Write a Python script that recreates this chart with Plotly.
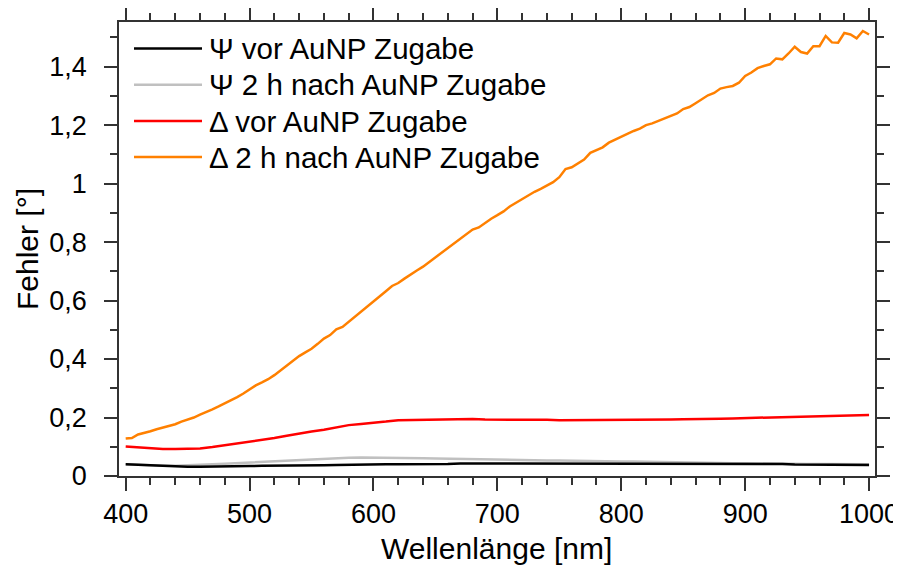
import plotly.graph_objects as go

# ---------------- data ----------------
wl_fine = list(range(400, 1001, 5))
delta_nach = [0.128, 0.130, 0.142, 0.147, 0.153, 0.160, 0.166, 0.170, 0.177, 0.186,
              0.193, 0.200, 0.210, 0.218, 0.228, 0.238, 0.248, 0.258, 0.270, 0.282,
              0.296, 0.310, 0.320, 0.331, 0.345, 0.362, 0.378, 0.396, 0.410, 0.423,
              0.435, 0.452, 0.470, 0.482, 0.502, 0.510, 0.527, 0.545, 0.562, 0.580,
              0.598, 0.615, 0.632, 0.650, 0.660, 0.675, 0.690, 0.703, 0.716, 0.732,
              0.745, 0.762, 0.778, 0.795, 0.810, 0.826, 0.843, 0.850, 0.866, 0.880,
              0.892, 0.905, 0.922, 0.935, 0.946, 0.958, 0.972, 0.982, 0.993, 1.005,
              1.022, 1.050, 1.056, 1.068, 1.082, 1.105, 1.115, 1.124, 1.140, 1.150,
              1.162, 1.172, 1.180, 1.188, 1.200, 1.206, 1.215, 1.222, 1.232, 1.240,
              1.255, 1.262, 1.275, 1.290, 1.302, 1.310, 1.325, 1.330, 1.334, 1.345,
              1.368, 1.380, 1.395, 1.402, 1.408, 1.428, 1.425, 1.445, 1.468, 1.450,
              1.445, 1.470, 1.470, 1.505, 1.483, 1.482, 1.515, 1.510, 1.497, 1.522,
              1.510]

wl = list(range(400, 1001, 10))
psi_vor = [0.040, 0.038, 0.036, 0.034, 0.033, 0.032, 0.032, 0.032, 0.032, 0.033,
           0.034, 0.035, 0.035, 0.036, 0.036, 0.037, 0.037, 0.038, 0.039, 0.039,
           0.040, 0.040, 0.040, 0.040, 0.040, 0.041, 0.041, 0.043, 0.043, 0.043,
           0.043, 0.043, 0.043, 0.043, 0.043, 0.043, 0.043, 0.043, 0.043, 0.043,
           0.043, 0.043, 0.043, 0.043, 0.043, 0.043, 0.043, 0.041, 0.041, 0.041,
           0.041, 0.041, 0.041, 0.041, 0.039, 0.039, 0.039, 0.039, 0.038, 0.038,
           0.038]
psi_nach = [0.040, 0.038, 0.036, 0.035, 0.035, 0.036, 0.038, 0.040, 0.042, 0.044,
            0.047, 0.050, 0.052, 0.054, 0.056, 0.058, 0.060, 0.061, 0.062, 0.063,
            0.063, 0.063, 0.063, 0.062, 0.061, 0.060, 0.059, 0.058, 0.057, 0.056,
            0.055, 0.055, 0.054, 0.054, 0.053, 0.053, 0.052, 0.052, 0.051, 0.051,
            0.050, 0.050, 0.049, 0.049, 0.048, 0.047, 0.046, 0.045, 0.045, 0.044,
            0.044, 0.043, 0.043, 0.042, 0.042, 0.041, 0.041, 0.041, 0.040, 0.040,
            0.040]
delta_vor = [0.101, 0.098, 0.094, 0.092, 0.092, 0.092, 0.094, 0.099, 0.105, 0.110,
             0.116, 0.123, 0.130, 0.138, 0.146, 0.152, 0.158, 0.166, 0.174, 0.178,
             0.181, 0.186, 0.191, 0.192, 0.192, 0.193, 0.195, 0.196, 0.195, 0.193,
             0.193, 0.193, 0.194, 0.193, 0.192, 0.191, 0.191, 0.191, 0.191, 0.192,
             0.192, 0.192, 0.192, 0.193, 0.193, 0.194, 0.194, 0.195, 0.196, 0.197,
             0.198, 0.199, 0.200, 0.201, 0.202, 0.203, 0.204, 0.205, 0.206, 0.208,
             0.209]

series_names = ["Ψ vor AuNP Zugabe", "Ψ 2 h nach AuNP Zugabe",
                "Δ vor AuNP Zugabe", "Δ 2 h nach AuNP Zugabe"]
series_colors = ["#000000", "#c0c0c0", "#ff0000", "#ff8000"]
x_title = "Wellenlänge [nm]"
y_title = "Fehler [°]"

FONT = "Arial, Liberation Sans, sans-serif"

fig = go.Figure()
# drawing order: grey below black
order = [(1, wl, psi_nach), (0, wl, psi_vor), (2, wl, delta_vor), (3, wl_fine, delta_nach)]
for idx, xs, ys in order:
    fig.add_trace(go.Scatter(x=xs, y=ys, mode="lines", name=series_names[idx],
                             line=dict(color=series_colors[idx], width=2.5),
                             showlegend=False))

# manual legend (longer line samples like the reference)
W, H = 756.0, 454.0
L, T = 119.0, 22.0          # plot-area origin in page pixels
row_y = [48.5, 84.8, 121.0, 157.0]
for i, name in enumerate(series_names):
    yp = (476 - row_y[i]) / H
    fig.add_shape(type="line", xref="paper", yref="paper",
                  x0=(134 - L) / W, x1=(202 - L) / W, y0=yp, y1=yp,
                  line=dict(color=series_colors[i], width=2.5))
    fig.add_annotation(xref="paper", yref="paper", x=(207 - L) / W, y=yp,
                       xanchor="left", yanchor="middle", text=name, showarrow=False,
                       font=dict(family=FONT, size=29.5, color="black"))

# x axis line extends beyond plot area
for x0, x1 in [((106 - L) / W, 0), (1, (888 - L) / W)]:
    fig.add_shape(type="line", xref="paper", yref="paper", x0=x0, x1=x1, y0=0, y1=0,
                  line=dict(color="#333333", width=1.5))

# axis titles as annotations at the reference positions
fig.add_annotation(xref="paper", yref="paper", x=(496 - L) / W, y=(476 - 548) / H,
                   xanchor="center", yanchor="middle", text=x_title, showarrow=False,
                   font=dict(family=FONT, size=30, color="black"))
fig.add_annotation(xref="paper", yref="paper", x=(27 - L) / W, y=(476 - 249) / H,
                   xanchor="center", yanchor="middle", text=y_title, showarrow=False,
                   textangle=-90, font=dict(family=FONT, size=30, color="black"))

axis_common = dict(showline=True, linecolor="#333333", linewidth=1.5, mirror="ticks",
                   ticks="outside", ticklen=13, tickwidth=1.5, tickcolor="#333333",
                   showgrid=False, zeroline=False, automargin=False,
                   tickfont=dict(family=FONT, size=27, color="black"),
                   minor=dict(ticks="outside", ticklen=7, tickwidth=1.5, tickcolor="#333333",
                              showgrid=False))

fig.update_xaxes(range=[394.6, 1004.8], tick0=400, dtick=100, **axis_common)
fig.update_xaxes(minor_dtick=20, minor_tick0=400)
fig.update_yaxes(range=[0, 1.5527], tick0=0, dtick=0.2, ticklabelstandoff=12, **axis_common)
fig.update_yaxes(minor_dtick=0.1, minor_tick0=0)

# page body has an 8 px margin: figure is 893x560 so the plot area lands at
# page x 119..875, y 22..476
fig.update_layout(width=893, height=560, separators=",.",
                  margin=dict(l=111, r=26, t=14, b=92, pad=0),
                  plot_bgcolor="white", paper_bgcolor="white",
                  font=dict(family=FONT, color="black"))

fig.write_html("out.html")
